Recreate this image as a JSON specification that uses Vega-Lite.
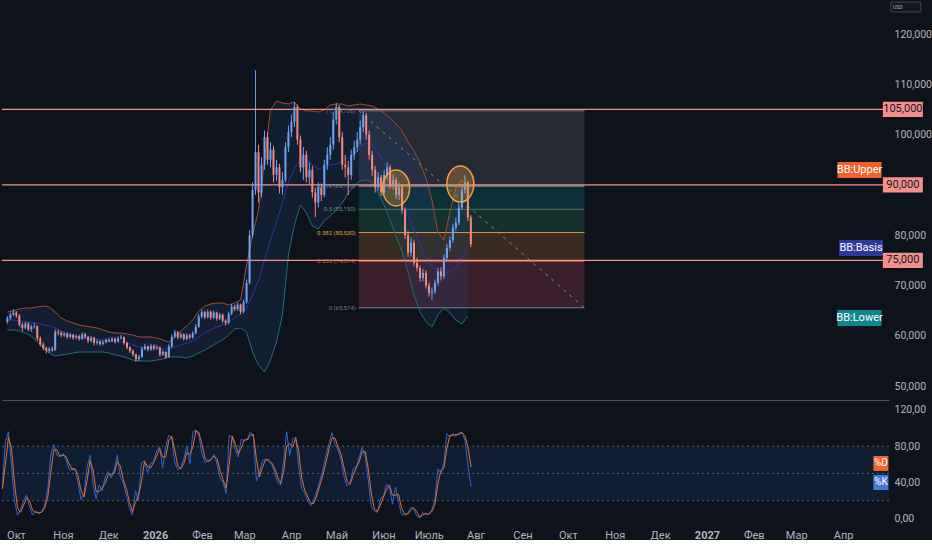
{
  "$schema": "https://vega.github.io/schema/vega-lite/v6.json",
  "background": "#0e121b",
  "padding": 0,
  "spacing": 0,
  "datasets": {
    "c": [
      {"d":"2025-09-22","o":62800,"h":63900,"l":62400,"c":63500,"k":35,"dd":33},
      {"d":"2025-09-24","o":63500,"h":64600,"l":63200,"c":64200,"k":85,"dd":60},
      {"d":"2025-09-26","o":64200,"h":65300,"l":63900,"c":64600,"k":96,"dd":90},
      {"d":"2025-09-28","o":64600,"h":64900,"l":63600,"c":64000,"k":60,"dd":78},
      {"d":"2025-09-30","o":64000,"h":64300,"l":61800,"c":62200,"k":20,"dd":40},
      {"d":"2025-10-02","o":62200,"h":62600,"l":61000,"c":61600,"k":4,"dd":12},
      {"d":"2025-10-04","o":61600,"h":62800,"l":61300,"c":62400,"k":10,"dd":7},
      {"d":"2025-10-06","o":62400,"h":62700,"l":60900,"c":61300,"k":20,"dd":15},
      {"d":"2025-10-08","o":61300,"h":62200,"l":60800,"c":61800,"k":26,"dd":23},
      {"d":"2025-10-10","o":61800,"h":62600,"l":61400,"c":61900,"k":13,"dd":20},
      {"d":"2025-10-12","o":61900,"h":62100,"l":59000,"c":59500,"k":4,"dd":9},
      {"d":"2025-10-14","o":59500,"h":59900,"l":57900,"c":58300,"k":9,"dd":7},
      {"d":"2025-10-16","o":58300,"h":58700,"l":57100,"c":57600,"k":5,"dd":7},
      {"d":"2025-10-18","o":57600,"h":57900,"l":56500,"c":57000,"k":8,"dd":7},
      {"d":"2025-10-20","o":57000,"h":57800,"l":56600,"c":57400,"k":15,"dd":12},
      {"d":"2025-10-22","o":57400,"h":57900,"l":56800,"c":57200,"k":32,"dd":24},
      {"d":"2025-10-24","o":57200,"h":61300,"l":57000,"c":60800,"k":70,"dd":51},
      {"d":"2025-10-26","o":60800,"h":61200,"l":60100,"c":60600,"k":82,"dd":76},
      {"d":"2025-10-28","o":60600,"h":60900,"l":59700,"c":60100,"k":70,"dd":76},
      {"d":"2025-10-30","o":60100,"h":60800,"l":59800,"c":60400,"k":68,"dd":69},
      {"d":"2025-11-01","o":60400,"h":60700,"l":59400,"c":59800,"k":72,"dd":70},
      {"d":"2025-11-03","o":59800,"h":60600,"l":59500,"c":60200,"k":66,"dd":69},
      {"d":"2025-11-05","o":60200,"h":60400,"l":59200,"c":59600,"k":55,"dd":61},
      {"d":"2025-11-07","o":59600,"h":60300,"l":59300,"c":59900,"k":54,"dd":55},
      {"d":"2025-11-09","o":59900,"h":60200,"l":59000,"c":59400,"k":55,"dd":55},
      {"d":"2025-11-11","o":59400,"h":60700,"l":59200,"c":60300,"k":40,"dd":48},
      {"d":"2025-11-13","o":60300,"h":60600,"l":59400,"c":59800,"k":21,"dd":31},
      {"d":"2025-11-15","o":59800,"h":60000,"l":58600,"c":59000,"k":27,"dd":24},
      {"d":"2025-11-17","o":59000,"h":60000,"l":58700,"c":59600,"k":57,"dd":42},
      {"d":"2025-11-19","o":59600,"h":59800,"l":58100,"c":58600,"k":70,"dd":64},
      {"d":"2025-11-21","o":58600,"h":59300,"l":58200,"c":58900,"k":38,"dd":54},
      {"d":"2025-11-23","o":58900,"h":59100,"l":58000,"c":58400,"k":22,"dd":30},
      {"d":"2025-11-25","o":58400,"h":59100,"l":58100,"c":58700,"k":37,"dd":30},
      {"d":"2025-11-27","o":58700,"h":59500,"l":58500,"c":59200,"k":31,"dd":34},
      {"d":"2025-11-29","o":59200,"h":59600,"l":58700,"c":59000,"k":46,"dd":39},
      {"d":"2025-12-01","o":59000,"h":59800,"l":58800,"c":59400,"k":52,"dd":49},
      {"d":"2025-12-03","o":59400,"h":59700,"l":58500,"c":58900,"k":45,"dd":49},
      {"d":"2025-12-05","o":58900,"h":59900,"l":58700,"c":59500,"k":55,"dd":50},
      {"d":"2025-12-07","o":59500,"h":60200,"l":59300,"c":59700,"k":70,"dd":63},
      {"d":"2025-12-09","o":59700,"h":59900,"l":58200,"c":58600,"k":46,"dd":58},
      {"d":"2025-12-11","o":58600,"h":58800,"l":57300,"c":57700,"k":40,"dd":43},
      {"d":"2025-12-13","o":57700,"h":57900,"l":56600,"c":57000,"k":26,"dd":33},
      {"d":"2025-12-15","o":57000,"h":57300,"l":55900,"c":56300,"k":12,"dd":19},
      {"d":"2025-12-17","o":56300,"h":56500,"l":54800,"c":55400,"k":4,"dd":8},
      {"d":"2025-12-19","o":55400,"h":56200,"l":55000,"c":55800,"k":31,"dd":18},
      {"d":"2025-12-21","o":55800,"h":57800,"l":55600,"c":57400,"k":20,"dd":26},
      {"d":"2025-12-23","o":57400,"h":58400,"l":57100,"c":57900,"k":62,"dd":41},
      {"d":"2025-12-25","o":57900,"h":58100,"l":56900,"c":57300,"k":64,"dd":63},
      {"d":"2025-12-27","o":57300,"h":58400,"l":57000,"c":58000,"k":51,"dd":58},
      {"d":"2025-12-29","o":58000,"h":58300,"l":57100,"c":57500,"k":61,"dd":56},
      {"d":"2025-12-31","o":57500,"h":58200,"l":57200,"c":57700,"k":63,"dd":62},
      {"d":"2026-01-02","o":57700,"h":57900,"l":55900,"c":56300,"k":75,"dd":69},
      {"d":"2026-01-04","o":56300,"h":57200,"l":56000,"c":56800,"k":79,"dd":77},
      {"d":"2026-01-06","o":56800,"h":57000,"l":55400,"c":55800,"k":56,"dd":68},
      {"d":"2026-01-08","o":55800,"h":58300,"l":55600,"c":57900,"k":79,"dd":68},
      {"d":"2026-01-10","o":57900,"h":60300,"l":57600,"c":59800,"k":92,"dd":86},
      {"d":"2026-01-12","o":59800,"h":61200,"l":59500,"c":60700,"k":90,"dd":91},
      {"d":"2026-01-14","o":60700,"h":61000,"l":59300,"c":59700,"k":62,"dd":76},
      {"d":"2026-01-16","o":59700,"h":60700,"l":59400,"c":60300,"k":54,"dd":58},
      {"d":"2026-01-18","o":60300,"h":60500,"l":59000,"c":59400,"k":56,"dd":55},
      {"d":"2026-01-20","o":59400,"h":60500,"l":59100,"c":60100,"k":66,"dd":61},
      {"d":"2026-01-22","o":60100,"h":60400,"l":59300,"c":59700,"k":80,"dd":73},
      {"d":"2026-01-24","o":59700,"h":60900,"l":59400,"c":60500,"k":61,"dd":71},
      {"d":"2026-01-26","o":60500,"h":62300,"l":60300,"c":61800,"k":96,"dd":79},
      {"d":"2026-01-28","o":61800,"h":64300,"l":61600,"c":63800,"k":98,"dd":97},
      {"d":"2026-01-30","o":63800,"h":65200,"l":63500,"c":64700,"k":91,"dd":95},
      {"d":"2026-02-01","o":64700,"h":65000,"l":63300,"c":63700,"k":72,"dd":82},
      {"d":"2026-02-03","o":63700,"h":65200,"l":63400,"c":64800,"k":62,"dd":67},
      {"d":"2026-02-05","o":64800,"h":65000,"l":63200,"c":63600,"k":64,"dd":63},
      {"d":"2026-02-07","o":63600,"h":65000,"l":63300,"c":64600,"k":66,"dd":65},
      {"d":"2026-02-09","o":64600,"h":64800,"l":63000,"c":63400,"k":71,"dd":69},
      {"d":"2026-02-11","o":63400,"h":64600,"l":63100,"c":64200,"k":60,"dd":66},
      {"d":"2026-02-13","o":64200,"h":64400,"l":62600,"c":63000,"k":45,"dd":53},
      {"d":"2026-02-15","o":63000,"h":63300,"l":62100,"c":62600,"k":40,"dd":43},
      {"d":"2026-02-17","o":62600,"h":64800,"l":62300,"c":64400,"k":28,"dd":34},
      {"d":"2026-02-19","o":64400,"h":66300,"l":64100,"c":65800,"k":92,"dd":60},
      {"d":"2026-02-21","o":65800,"h":66200,"l":64900,"c":65300,"k":90,"dd":91},
      {"d":"2026-02-23","o":65300,"h":66600,"l":65000,"c":66200,"k":76,"dd":83},
      {"d":"2026-02-25","o":66200,"h":66400,"l":64300,"c":64800,"k":68,"dd":72},
      {"d":"2026-02-27","o":64800,"h":67200,"l":64500,"c":66700,"k":88,"dd":78},
      {"d":"2026-03-01","o":66700,"h":71200,"l":66400,"c":70500,"k":86,"dd":87},
      {"d":"2026-03-03","o":70500,"h":81000,"l":70200,"c":80000,"k":88,"dd":87},
      {"d":"2026-03-05","o":80000,"h":90500,"l":79500,"c":89000,"k":96,"dd":92},
      {"d":"2026-03-07","o":89000,"h":112800,"l":88000,"c":96500,"k":90,"dd":93},
      {"d":"2026-03-09","o":96500,"h":98000,"l":86500,"c":88500,"k":42,"dd":66},
      {"d":"2026-03-11","o":88500,"h":95500,"l":87500,"c":94000,"k":50,"dd":46},
      {"d":"2026-03-13","o":94000,"h":100800,"l":93000,"c":99500,"k":64,"dd":57},
      {"d":"2026-03-15","o":99500,"h":100500,"l":94000,"c":95000,"k":66,"dd":65},
      {"d":"2026-03-17","o":95000,"h":98500,"l":93500,"c":97000,"k":63,"dd":65},
      {"d":"2026-03-19","o":97000,"h":97800,"l":90500,"c":92000,"k":60,"dd":62},
      {"d":"2026-03-21","o":92000,"h":95000,"l":90800,"c":93500,"k":52,"dd":56},
      {"d":"2026-03-23","o":93500,"h":94200,"l":88300,"c":89500,"k":40,"dd":46},
      {"d":"2026-03-25","o":89500,"h":92500,"l":88000,"c":91000,"k":37,"dd":39},
      {"d":"2026-03-27","o":91000,"h":98500,"l":90500,"c":97500,"k":64,"dd":51},
      {"d":"2026-03-29","o":97500,"h":101800,"l":96500,"c":100500,"k":96,"dd":80},
      {"d":"2026-03-31","o":100500,"h":104000,"l":99500,"c":102500,"k":70,"dd":83},
      {"d":"2026-04-02","o":102500,"h":106500,"l":101500,"c":105500,"k":88,"dd":79},
      {"d":"2026-04-04","o":105500,"h":106000,"l":98000,"c":99000,"k":90,"dd":89},
      {"d":"2026-04-06","o":99000,"h":99800,"l":92500,"c":93500,"k":57,"dd":74},
      {"d":"2026-04-08","o":93500,"h":97500,"l":91000,"c":96000,"k":33,"dd":45},
      {"d":"2026-04-10","o":96000,"h":96800,"l":90500,"c":91500,"k":28,"dd":31},
      {"d":"2026-04-12","o":91500,"h":94500,"l":90000,"c":93000,"k":19,"dd":24},
      {"d":"2026-04-14","o":93000,"h":93800,"l":87500,"c":88500,"k":14,"dd":17},
      {"d":"2026-04-16","o":88500,"h":89500,"l":83600,"c":86500,"k":20,"dd":17},
      {"d":"2026-04-18","o":86500,"h":90500,"l":85500,"c":89500,"k":31,"dd":26},
      {"d":"2026-04-20","o":89500,"h":90300,"l":86800,"c":88000,"k":42,"dd":37},
      {"d":"2026-04-22","o":88000,"h":95000,"l":87500,"c":94000,"k":54,"dd":48},
      {"d":"2026-04-24","o":94000,"h":97500,"l":93000,"c":96000,"k":70,"dd":62},
      {"d":"2026-04-26","o":96000,"h":99500,"l":95000,"c":98000,"k":83,"dd":77},
      {"d":"2026-04-28","o":98000,"h":104500,"l":97000,"c":103000,"k":95,"dd":89},
      {"d":"2026-04-30","o":103000,"h":106300,"l":102000,"c":105500,"k":82,"dd":89},
      {"d":"2026-05-02","o":105500,"h":105900,"l":98500,"c":99500,"k":76,"dd":79},
      {"d":"2026-05-04","o":99500,"h":100500,"l":93000,"c":94000,"k":65,"dd":71},
      {"d":"2026-05-06","o":94000,"h":96000,"l":91500,"c":93500,"k":46,"dd":56},
      {"d":"2026-05-08","o":93500,"h":94800,"l":88000,"c":92000,"k":36,"dd":41},
      {"d":"2026-05-10","o":92000,"h":97000,"l":91000,"c":96000,"k":40,"dd":38},
      {"d":"2026-05-12","o":96000,"h":98800,"l":95000,"c":97500,"k":55,"dd":48},
      {"d":"2026-05-14","o":97500,"h":100500,"l":96500,"c":99000,"k":57,"dd":56},
      {"d":"2026-05-16","o":99000,"h":102800,"l":98000,"c":101500,"k":68,"dd":63},
      {"d":"2026-05-18","o":101500,"h":104600,"l":100500,"c":103800,"k":79,"dd":74},
      {"d":"2026-05-20","o":103800,"h":104300,"l":99000,"c":100000,"k":68,"dd":74},
      {"d":"2026-05-22","o":100000,"h":100800,"l":95000,"c":96000,"k":42,"dd":55},
      {"d":"2026-05-24","o":96000,"h":96800,"l":91800,"c":93000,"k":13,"dd":28},
      {"d":"2026-05-26","o":93000,"h":93800,"l":88500,"c":89500,"k":9,"dd":11},
      {"d":"2026-05-28","o":89500,"h":92500,"l":88800,"c":91500,"k":7,"dd":8},
      {"d":"2026-05-30","o":91500,"h":92000,"l":87800,"c":88500,"k":22,"dd":15},
      {"d":"2026-06-01","o":88500,"h":93000,"l":88000,"c":92000,"k":25,"dd":24},
      {"d":"2026-06-03","o":92000,"h":94500,"l":91000,"c":93500,"k":38,"dd":32},
      {"d":"2026-06-05","o":93500,"h":94000,"l":89200,"c":90000,"k":35,"dd":37},
      {"d":"2026-06-07","o":90000,"h":92200,"l":89000,"c":91000,"k":16,"dd":26},
      {"d":"2026-06-09","o":91000,"h":91500,"l":87200,"c":88000,"k":35,"dd":26},
      {"d":"2026-06-11","o":88000,"h":90500,"l":87000,"c":89500,"k":18,"dd":27},
      {"d":"2026-06-13","o":89500,"h":90000,"l":84300,"c":85000,"k":5,"dd":12},
      {"d":"2026-06-15","o":85000,"h":85500,"l":79200,"c":80000,"k":4,"dd":5},
      {"d":"2026-06-17","o":80000,"h":80800,"l":75700,"c":76500,"k":6,"dd":5},
      {"d":"2026-06-19","o":76500,"h":79500,"l":75800,"c":78500,"k":12,"dd":9},
      {"d":"2026-06-21","o":78500,"h":79000,"l":73800,"c":74500,"k":12,"dd":12},
      {"d":"2026-06-23","o":74500,"h":75500,"l":72800,"c":73500,"k":3,"dd":8},
      {"d":"2026-06-25","o":73500,"h":74000,"l":70800,"c":71500,"k":1,"dd":2},
      {"d":"2026-06-27","o":71500,"h":73300,"l":70800,"c":72500,"k":7,"dd":4},
      {"d":"2026-06-29","o":72500,"h":73000,"l":69400,"c":70000,"k":4,"dd":6},
      {"d":"2026-07-01","o":70000,"h":70600,"l":67800,"c":68500,"k":5,"dd":5},
      {"d":"2026-07-03","o":68500,"h":69600,"l":67100,"c":68800,"k":10,"dd":8},
      {"d":"2026-07-05","o":68800,"h":71200,"l":68300,"c":70500,"k":20,"dd":15},
      {"d":"2026-07-07","o":70500,"h":73500,"l":70000,"c":72800,"k":55,"dd":38},
      {"d":"2026-07-09","o":72800,"h":73600,"l":71000,"c":71800,"k":50,"dd":53},
      {"d":"2026-07-11","o":71800,"h":76200,"l":71300,"c":75500,"k":62,"dd":56},
      {"d":"2026-07-13","o":75500,"h":78300,"l":75000,"c":77500,"k":94,"dd":78},
      {"d":"2026-07-15","o":77500,"h":79800,"l":76800,"c":79000,"k":90,"dd":92},
      {"d":"2026-07-17","o":79000,"h":82300,"l":78500,"c":81500,"k":94,"dd":92},
      {"d":"2026-07-19","o":81500,"h":83500,"l":80800,"c":82500,"k":91,"dd":93},
      {"d":"2026-07-21","o":82500,"h":86300,"l":82000,"c":85500,"k":95,"dd":93},
      {"d":"2026-07-23","o":85500,"h":89800,"l":85000,"c":89000,"k":95,"dd":95},
      {"d":"2026-07-25","o":89000,"h":91900,"l":88300,"c":90500,"k":86,"dd":91},
      {"d":"2026-07-27","o":90500,"h":90800,"l":82800,"c":83500,"k":57,"dd":78},
      {"d":"2026-07-29","o":83500,"h":84000,"l":77600,"c":78200,"k":35,"dd":57}
    ],
    "bb": [
      {"d":"2025-09-22","u":64730,"m":63140,"lo":61160},
      {"d":"2025-09-26","u":64930,"m":63140,"lo":61160},
      {"d":"2025-09-30","u":65330,"m":62950,"lo":60960},
      {"d":"2025-10-04","u":65530,"m":62750,"lo":60560},
      {"d":"2025-10-08","u":65530,"m":62550,"lo":59960},
      {"d":"2025-10-12","u":65730,"m":62550,"lo":58770},
      {"d":"2025-10-16","u":65930,"m":62150,"lo":57580},
      {"d":"2025-10-20","u":65730,"m":61950,"lo":56580},
      {"d":"2025-10-24","u":64730,"m":61560,"lo":55990},
      {"d":"2025-10-28","u":63540,"m":60960,"lo":56190},
      {"d":"2025-11-01","u":62950,"m":60360,"lo":56380},
      {"d":"2025-11-05","u":62550,"m":59960,"lo":56580},
      {"d":"2025-11-09","u":62150,"m":59770,"lo":56780},
      {"d":"2025-11-13","u":61950,"m":59570,"lo":56780},
      {"d":"2025-11-17","u":61750,"m":59370,"lo":56780},
      {"d":"2025-11-21","u":61560,"m":59370,"lo":56780},
      {"d":"2025-11-25","u":61160,"m":59170,"lo":56780},
      {"d":"2025-11-29","u":60760,"m":58970,"lo":56580},
      {"d":"2025-12-03","u":60560,"m":58770,"lo":56190},
      {"d":"2025-12-07","u":60560,"m":58770,"lo":55990},
      {"d":"2025-12-11","u":60360,"m":58570,"lo":55590},
      {"d":"2025-12-15","u":60160,"m":58170,"lo":55190},
      {"d":"2025-12-19","u":59770,"m":57780,"lo":54990},
      {"d":"2025-12-23","u":59770,"m":57580,"lo":54990},
      {"d":"2025-12-27","u":59770,"m":57580,"lo":54990},
      {"d":"2025-12-31","u":59570,"m":57580,"lo":55190},
      {"d":"2026-01-04","u":59170,"m":57380,"lo":55390},
      {"d":"2026-01-08","u":58770,"m":57380,"lo":55790},
      {"d":"2026-01-12","u":59770,"m":57780,"lo":55790},
      {"d":"2026-01-16","u":60960,"m":58170,"lo":55790},
      {"d":"2026-01-20","u":61950,"m":58570,"lo":55590},
      {"d":"2026-01-24","u":63140,"m":58970,"lo":55990},
      {"d":"2026-01-28","u":64930,"m":59770,"lo":56580},
      {"d":"2026-02-01","u":65930,"m":60560,"lo":57180},
      {"d":"2026-02-05","u":66320,"m":61160,"lo":57780},
      {"d":"2026-02-09","u":66520,"m":61750,"lo":58570},
      {"d":"2026-02-13","u":66520,"m":62150,"lo":59170},
      {"d":"2026-02-17","u":66130,"m":62750,"lo":60160},
      {"d":"2026-02-21","u":66520,"m":63540,"lo":61360},
      {"d":"2026-02-25","u":67120,"m":64340,"lo":61560},
      {"d":"2026-03-01","u":74080,"m":65530,"lo":60760},
      {"d":"2026-03-05","u":80040,"m":68110,"lo":56780},
      {"d":"2026-03-09","u":85010,"m":71100,"lo":54200},
      {"d":"2026-03-13","u":94950,"m":75070,"lo":52810},
      {"d":"2026-03-17","u":104890,"m":79050,"lo":55190},
      {"d":"2026-03-21","u":106680,"m":82630,"lo":58770},
      {"d":"2026-03-25","u":106280,"m":86400,"lo":64140},
      {"d":"2026-03-29","u":106080,"m":90580,"lo":76070},
      {"d":"2026-04-02","u":106480,"m":93160,"lo":82030},
      {"d":"2026-04-06","u":105090,"m":95150,"lo":86010},
      {"d":"2026-04-10","u":104690,"m":94950,"lo":84420},
      {"d":"2026-04-14","u":104690,"m":93960,"lo":81830},
      {"d":"2026-04-18","u":104490,"m":93160,"lo":81240},
      {"d":"2026-04-22","u":104890,"m":93560,"lo":82830},
      {"d":"2026-04-26","u":105890,"m":93960,"lo":83820},
      {"d":"2026-04-30","u":106080,"m":94160,"lo":85010},
      {"d":"2026-05-04","u":106080,"m":94750,"lo":86400},
      {"d":"2026-05-08","u":105690,"m":95350,"lo":88390},
      {"d":"2026-05-12","u":105890,"m":96140,"lo":89780},
      {"d":"2026-05-16","u":106080,"m":97540,"lo":90780},
      {"d":"2026-05-20","u":105890,"m":98330,"lo":90980},
      {"d":"2026-05-24","u":105690,"m":98130,"lo":90580},
      {"d":"2026-05-28","u":105090,"m":96340,"lo":88390},
      {"d":"2026-06-01","u":104300,"m":94550,"lo":86010},
      {"d":"2026-06-05","u":103300,"m":92570,"lo":83020},
      {"d":"2026-06-09","u":102110,"m":89980,"lo":79840},
      {"d":"2026-06-13","u":100720,"m":87000,"lo":76660},
      {"d":"2026-06-17","u":98530,"m":84020,"lo":72690},
      {"d":"2026-06-21","u":96740,"m":81040,"lo":68110},
      {"d":"2026-06-25","u":94360,"m":78050,"lo":64730},
      {"d":"2026-06-29","u":91370,"m":75670,"lo":62750},
      {"d":"2026-07-03","u":87000,"m":73680,"lo":61750},
      {"d":"2026-07-07","u":80640,"m":72490,"lo":64140},
      {"d":"2026-07-11","u":79050,"m":72090,"lo":65530},
      {"d":"2026-07-15","u":84610,"m":72690,"lo":64540},
      {"d":"2026-07-19","u":89390,"m":73480,"lo":63140},
      {"d":"2026-07-23","u":90980,"m":75470,"lo":62350},
      {"d":"2026-07-27","u":89780,"m":77860,"lo":63940}
    ],
    "lv": [
      {"p":105000,"t":"105,000","d":"2027-05-14"},
      {"p":90000,"t":"90,000","d":"2027-05-14"},
      {"p":75000,"t":"75,000","d":"2027-05-14"}
    ],
    "fz": [
      {"t0":"2026-05-15","t1":"2026-10-13","top":104726,"bot":89770,"z":"a"},
      {"t0":"2026-05-15","t1":"2026-10-13","top":89770,"bot":85150,"z":"b"},
      {"t0":"2026-05-15","t1":"2026-10-13","top":85150,"bot":80530,"z":"c"},
      {"t0":"2026-05-15","t1":"2026-10-13","top":80530,"bot":74814,"z":"d"},
      {"t0":"2026-05-15","t1":"2026-10-13","top":74814,"bot":65574,"z":"e"}
    ],
    "fl": [
      {"t0":"2026-05-15","t1":"2026-10-13","p":104726,"g":"1","lab":"1 (104,726)"},
      {"t0":"2026-05-15","t1":"2026-10-13","p":89770,"g":"0.618","lab":"0.618 (89,770)"},
      {"t0":"2026-05-15","t1":"2026-10-13","p":85150,"g":"0.5","lab":"0.5 (85,150)"},
      {"t0":"2026-05-15","t1":"2026-10-13","p":80530,"g":"0.382","lab":"0.382 (80,530)"},
      {"t0":"2026-05-15","t1":"2026-10-13","p":74814,"g":"0.236","lab":"0.236 (74,814)"},
      {"t0":"2026-05-15","t1":"2026-10-13","p":65574,"g":"0","lab":"0 (65,574)"}
    ],
    "tr": [
      {"d":"2026-05-15","p":104726},
      {"d":"2026-10-13","p":65574}
    ],
    "el": [
      {"d":"2026-06-09","p":89390},
      {"d":"2026-07-22","p":90180}
    ],
    "bbl": [
      {"d":"2027-04-15","p":92960,"t":"BB:Upper"},
      {"d":"2027-04-16","p":77460,"t":"BB:Basis"},
      {"d":"2027-04-15","p":63540,"t":"BB:Lower"}
    ],
    "usd": [
      {"d":"2027-05-16","p":125370,"t":"USD"}
    ],
    "band": [
      {"lo":20,"hi":80}
    ],
    "dl": [
      {"v":80},{"v":50},{"v":20}
    ],
    "stl": [
      {"d":"2027-04-26","v":61,"t":"%D"},
      {"d":"2027-04-26","v":40,"t":"%K"}
    ]
  },
  "vconcat": [
    {
      "width": 887,
      "height": 400,
      "resolve": {"scale": {"color": "independent"}},
      "layer": [
        {
          "data": {"name": "fz"},
          "mark": {"type": "rect"},
          "encoding": {
            "x": {
              "field": "t0", "type": "temporal", "title": null,
              "scale": {"domain": [{"year": 2025, "month": 9, "date": 21, "hours": 18}, {"year": 2027, "month": 5, "date": 1, "hours": 9}]},
              "axis": {"labels": false, "ticks": false, "grid": false, "domain": true, "domainColor": "#50535e", "title": null}
            },
            "x2": {"field": "t1"},
            "y": {
              "field": "top", "type": "quantitative", "title": null,
              "scale": {"domain": [47240, 126760], "nice": false, "zero": false},
              "axis": {"orient": "right", "values": [50000, 60000, 70000, 80000, 100000, 110000, 120000], "format": ",.0f", "grid": false, "ticks": false, "domain": false, "labelPadding": 5, "labelFontSize": 10.5, "title": null}
            },
            "y2": {"field": "bot"},
            "color": {
              "field": "z", "type": "nominal", "legend": null,
              "scale": {"domain": ["a", "b", "c", "d", "e"], "range": ["#252a35", "#0c2e37", "#15302c", "#372c1f", "#391e2b"]}
            }
          }
        },
        {
          "data": {"name": "bb"},
          "mark": {"type": "area", "color": "#2a4a7a", "opacity": 0.22},
          "encoding": {
            "x": {"field": "d", "type": "temporal", "title": null},
            "y": {"field": "u", "type": "quantitative", "title": null},
            "y2": {"field": "lo"}
          }
        },
        {
          "data": {"name": "fl"},
          "mark": {"type": "rule", "strokeWidth": 1},
          "encoding": {
            "x": {"field": "t0", "type": "temporal", "title": null},
            "x2": {"field": "t1"},
            "y": {"field": "p", "type": "quantitative", "title": null},
            "color": {
              "field": "g", "type": "nominal", "legend": null,
              "scale": {"domain": ["1", "0.618", "0.5", "0.382", "0.236", "0"], "range": ["#787b86", "#a9b4ba", "#4f7a70", "#d9963a", "#f2653a", "#787b86"]}
            }
          }
        },
        {
          "data": {"name": "bb"},
          "mark": {"type": "line", "color": "#a04c2e", "strokeWidth": 1},
          "encoding": {
            "x": {"field": "d", "type": "temporal", "title": null},
            "y": {"field": "u", "type": "quantitative", "title": null}
          }
        },
        {
          "data": {"name": "bb"},
          "mark": {"type": "line", "color": "#2b36a8", "strokeWidth": 1},
          "encoding": {
            "x": {"field": "d", "type": "temporal", "title": null},
            "y": {"field": "m", "type": "quantitative", "title": null}
          }
        },
        {
          "data": {"name": "bb"},
          "mark": {"type": "line", "color": "#1b7178", "strokeWidth": 1},
          "encoding": {
            "x": {"field": "d", "type": "temporal", "title": null},
            "y": {"field": "lo", "type": "quantitative", "title": null}
          }
        },
        {
          "data": {"name": "lv"},
          "mark": {"type": "rule", "color": "#f4908a", "strokeWidth": 1.2},
          "encoding": {
            "y": {"field": "p", "type": "quantitative", "title": null}
          }
        },
        {
          "data": {"name": "tr"},
          "mark": {"type": "line", "color": "#8a8d96", "strokeWidth": 1, "strokeDash": [3, 5]},
          "encoding": {
            "x": {"field": "d", "type": "temporal", "title": null},
            "y": {"field": "p", "type": "quantitative", "title": null}
          }
        },
        {
          "data": {"name": "c"},
          "mark": {"type": "rule", "strokeWidth": 1},
          "encoding": {
            "x": {"field": "d", "type": "temporal", "title": null},
            "y": {"field": "l", "type": "quantitative", "title": null},
            "y2": {"field": "h"},
            "color": {"condition": {"test": "datum.c >= datum.o", "value": "#6ba3f5"}, "value": "#f5877f"}
          }
        },
        {
          "data": {"name": "c"},
          "mark": {"type": "bar", "width": 2},
          "encoding": {
            "x": {"field": "d", "type": "temporal", "title": null},
            "y": {"field": "o", "type": "quantitative", "title": null},
            "y2": {"field": "c"},
            "color": {"condition": {"test": "datum.c >= datum.o", "value": "#6ba3f5"}, "value": "#f5877f"}
          }
        },
        {
          "data": {"name": "el"},
          "mark": {"type": "point", "shape": "M0,-1.33A1,1.33,0,1,1,0,1.33A1,1.33,0,1,1,0,-1.33Z", "size": 729, "filled": true, "opacity": 1, "fill": "#f5a03c", "fillOpacity": 0.3, "stroke": "#f5a03c", "strokeWidth": 1.5},
          "encoding": {
            "x": {"field": "d", "type": "temporal", "title": null},
            "y": {"field": "p", "type": "quantitative", "title": null}
          }
        },
        {
          "data": {"name": "fl"},
          "mark": {"type": "text", "align": "right", "baseline": "middle", "dx": -3, "fontSize": 6},
          "encoding": {
            "x": {"field": "t0", "type": "temporal", "title": null},
            "y": {"field": "p", "type": "quantitative", "title": null},
            "text": {"field": "lab"},
            "color": {
              "field": "g", "type": "nominal", "legend": null,
              "scale": {"domain": ["1", "0.618", "0.5", "0.382", "0.236", "0"], "range": ["#787b86", "#5f9a9a", "#5a9a6a", "#e0a040", "#e05a3a", "#787b86"]}
            }
          }
        },
        {
          "data": {"name": "bbl"},
          "mark": {"type": "point", "shape": "M-1,-0.36H1V0.36H-1Z", "size": 1936, "filled": true, "opacity": 1},
          "encoding": {
            "x": {"field": "d", "type": "temporal", "title": null},
            "y": {"field": "p", "type": "quantitative", "title": null},
            "color": {
              "field": "t", "type": "nominal", "legend": null,
              "scale": {"domain": ["BB:Upper", "BB:Basis", "BB:Lower"], "range": ["#f0622d", "#2c3a9e", "#10868c"]}
            }
          }
        },
        {
          "data": {"name": "bbl"},
          "mark": {"type": "text", "align": "center", "baseline": "middle", "fontSize": 11, "color": "#ffffff"},
          "encoding": {
            "x": {"field": "d", "type": "temporal", "title": null},
            "y": {"field": "p", "type": "quantitative", "title": null},
            "text": {"field": "t"}
          }
        },
        {
          "data": {"name": "lv"},
          "mark": {"type": "point", "shape": "M-1,-0.38H1V0.38H-1Z", "size": 1600, "filled": true, "opacity": 1, "color": "#f4908a"},
          "encoding": {
            "x": {"field": "d", "type": "temporal", "title": null},
            "y": {"field": "p", "type": "quantitative", "title": null}
          }
        },
        {
          "data": {"name": "lv"},
          "mark": {"type": "text", "align": "center", "baseline": "middle", "fontSize": 11, "color": "#131722"},
          "encoding": {
            "x": {"field": "d", "type": "temporal", "title": null},
            "y": {"field": "p", "type": "quantitative", "title": null},
            "text": {"field": "t"}
          }
        },
        {
          "data": {"name": "usd"},
          "mark": {"type": "point", "shape": "M-1,-0.33H1V0.33H-1Z", "size": 900, "filled": true, "opacity": 1, "fill": "#131722", "stroke": "#434651", "strokeWidth": 1},
          "encoding": {
            "x": {"field": "d", "type": "temporal", "title": null},
            "y": {"field": "p", "type": "quantitative", "title": null}
          }
        },
        {
          "data": {"name": "usd"},
          "mark": {"type": "text", "align": "center", "baseline": "middle", "fontSize": 5, "dx": -8, "color": "#b2b5be"},
          "encoding": {
            "x": {"field": "d", "type": "temporal", "title": null},
            "y": {"field": "p", "type": "quantitative", "title": null},
            "text": {"field": "t"}
          }
        }
      ]
    },
    {
      "width": 887,
      "height": 126,
      "layer": [
        {
          "data": {"name": "band"},
          "mark": {"type": "rect", "color": "#2196f3", "opacity": 0.1},
          "encoding": {
            "y": {
              "field": "hi", "type": "quantitative", "title": null,
              "scale": {"domain": [-8, 131], "nice": false, "zero": false},
              "axis": {"orient": "right", "values": [0, 40, 80, 120], "labelExpr": "replace(format(datum.value, '.2f'), '.', ',')", "grid": false, "ticks": false, "domain": false, "labelPadding": 5, "labelFontSize": 10.5, "title": null}
            },
            "y2": {"field": "lo"}
          }
        },
        {
          "data": {"name": "dl"},
          "mark": {"type": "rule", "color": "#787b86", "opacity": 0.7, "strokeWidth": 1, "strokeDash": [2, 3]},
          "encoding": {
            "y": {"field": "v", "type": "quantitative", "title": null}
          }
        },
        {
          "data": {"name": "c"},
          "mark": {"type": "line", "color": "#2f63d8", "strokeWidth": 1},
          "encoding": {
            "x": {
              "field": "d", "type": "temporal", "title": null,
              "scale": {"domain": [{"year": 2025, "month": 9, "date": 21, "hours": 18}, {"year": 2027, "month": 5, "date": 1, "hours": 9}]},
              "axis": {
                "values": [
                  {"year": 2025, "month": 10, "date": 1}, {"year": 2025, "month": 11, "date": 1}, {"year": 2025, "month": 12, "date": 1},
                  {"year": 2026, "month": 1, "date": 1}, {"year": 2026, "month": 2, "date": 1}, {"year": 2026, "month": 3, "date": 1},
                  {"year": 2026, "month": 4, "date": 1}, {"year": 2026, "month": 5, "date": 1}, {"year": 2026, "month": 6, "date": 1},
                  {"year": 2026, "month": 7, "date": 1}, {"year": 2026, "month": 8, "date": 1}, {"year": 2026, "month": 9, "date": 1},
                  {"year": 2026, "month": 10, "date": 1}, {"year": 2026, "month": 11, "date": 1}, {"year": 2026, "month": 12, "date": 1},
                  {"year": 2027, "month": 1, "date": 1}, {"year": 2027, "month": 2, "date": 1}, {"year": 2027, "month": 3, "date": 1},
                  {"year": 2027, "month": 4, "date": 1}
                ],
                "labelExpr": "month(datum.value) == 0 ? timeFormat(datum.value, '%Y') : ['Янв','Фев','Мар','Апр','Май','Июн','Июль','Авг','Сен','Окт','Ноя','Дек'][month(datum.value)]",
                "labelFontWeight": {"condition": {"test": "month(datum.value) == 0", "value": "bold"}, "value": "normal"},
                "labelFlush": false,
                "labelOverlap": false,
                "labelPadding": 3,
                "grid": false, "ticks": false, "domain": false, "title": null
              }
            },
            "y": {"field": "k", "type": "quantitative", "title": null}
          }
        },
        {
          "data": {"name": "c"},
          "mark": {"type": "line", "color": "#e0702c", "strokeWidth": 1},
          "encoding": {
            "x": {"field": "d", "type": "temporal", "title": null},
            "y": {"field": "dd", "type": "quantitative", "title": null}
          }
        },
        {
          "data": {"name": "stl"},
          "mark": {"type": "point", "shape": "M-1,-1H1V1H-1Z", "size": 225, "filled": true, "opacity": 1},
          "encoding": {
            "x": {"field": "d", "type": "temporal", "title": null},
            "y": {"field": "v", "type": "quantitative", "title": null},
            "color": {"field": "t", "type": "nominal", "legend": null, "scale": {"domain": ["%D", "%K"], "range": ["#f26430", "#4a78d8"]}}
          }
        },
        {
          "data": {"name": "stl"},
          "mark": {"type": "text", "align": "center", "baseline": "middle", "fontSize": 10, "color": "#ffffff"},
          "encoding": {
            "x": {"field": "d", "type": "temporal", "title": null},
            "y": {"field": "v", "type": "quantitative", "title": null},
            "text": {"field": "t"}
          }
        }
      ]
    }
  ],
  "config": {
    "font": "Roboto",
    "view": {"stroke": null},
    "axis": {"labelColor": "#b2b5be", "labelFontSize": 11, "labelFont": "Roboto"}
  }
}
